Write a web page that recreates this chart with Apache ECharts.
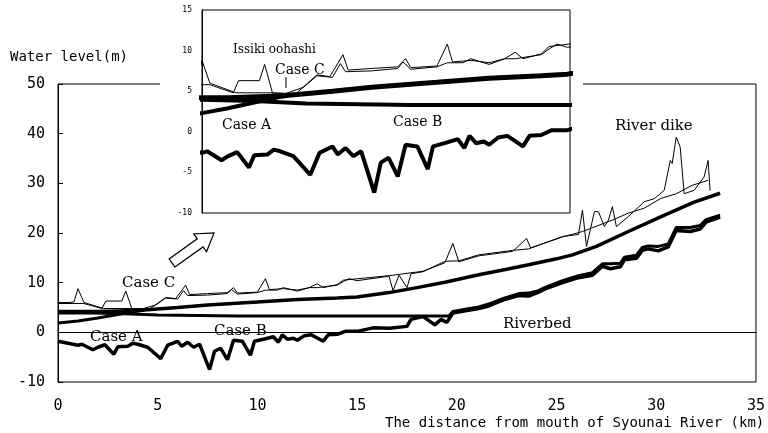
<!DOCTYPE html>
<html>
<head>
<meta charset="utf-8">
<script src="https://cdn.jsdelivr.net/npm/echarts@6/dist/echarts.min.js"></script>
<style>html,body{margin:0;padding:0;background:#fff}#c{width:768px;height:433px}</style>
</head>
<body>
<div id="c"></div>
<script>
// ---- data (km, water level m) ----
const xTicks = [0, 5, 10, 15, 20, 25, 30, 35];
const yTicks = [-10, 0, 10, 20, 30, 40, 50];
const insetYTicks = [-10, -5, 0, 5, 10, 15];

const dike1Km  = [0,0.5,0.8,1.0,1.3,2.3,3.0,3.6,4.6,5.4,5.9,6.4,6.6,7.5,8.5,8.8,9.0,10.0,10.4,10.6,11.3,12.0,12.6,13.0,13.3,14.0,14.3,15.3,16.6,18.3,19.4,19.8,20.1,21.1,22.8,23.5,23.7,25.3,26.3,27.8,28.6,29.4,30.2,31.0,31.8,32.6];
const dike1Lvl = [6.0,6.0,6.1,8.8,6.0,4.8,4.8,4.8,4.7,7.0,6.8,9.5,7.6,7.8,8.0,9.0,7.9,8.1,10.8,8.6,8.8,8.5,9.0,9.8,9.0,9.6,10.5,10.9,11.4,12.3,14.0,17.9,14.2,15.4,16.3,18.9,17.0,19.2,20.3,22.6,24.0,25.0,26.9,27.9,29.6,30.6];

const dike2Km  = [0,1.3,2.2,2.4,3.2,3.4,3.7,4.2,4.9,5.4,6.0,6.3,6.5,7.5,8.5,8.7,9.0,10.0,10.4,11.0,11.3,12.0,12.6,13.0,14.0,14.3,14.6,15.0,16.6,16.8,17.1,17.5,17.7,18.3,19.4,20.1,21.1,22.8,23.6,25.3,26.1,26.3,26.5,26.9,27.1,27.4,27.6,27.8,28.0,28.6,29.4,29.9,30.4,30.7,30.8,31.0,31.2,31.4,31.9,32.4,32.6,32.7];
const dike2Lvl = [5.8,5.8,4.8,6.3,6.3,8.3,4.8,4.7,5.5,6.9,6.7,8.4,7.4,7.5,7.8,8.6,7.7,8.0,8.5,8.5,9.0,8.3,9.0,9.0,9.5,10.2,10.8,10.4,11.3,8.4,11.5,9.0,11.8,12.2,14.3,14.4,15.6,16.5,16.8,19.3,19.7,24.6,17.3,24.3,24.3,21.3,22.6,25.3,21.3,23.3,26.3,26.9,28.6,34.6,34.0,39.3,37.3,27.9,28.6,31.3,34.6,28.5];

const caseAKm  = [0,1,2,3,4,4.3];
const caseALvl = [1.9,2.3,2.9,3.6,4.3,4.45];

const caseCKm  = [0,2,4,6,7.5,10,12,14,15,16.6,18,19.4,21.1,22.5,23.6,25,25.8,27,28.6,30.3,31.9,33.2];
const caseCLvl = [4.2,4.2,4.4,5.0,5.5,6.1,6.6,6.9,7.1,8.0,9.0,10.1,11.6,12.7,13.6,14.8,15.6,17.3,20.3,23.4,26.2,28.0];

const caseBKm  = [0,1,3,5,9,14,19.6,19.8,20.5,21.1,21.6,22.3,23.1,23.6,24.1,24.4,25.3,26.1,26.8,27.3,27.7,28.2,28.4,29.0,29.3,29.6,30.1,30.6,31.0,31.7,32.2,32.5,33.2];
const caseBLvl = [3.9,3.95,3.8,3.5,3.3,3.3,3.3,4.2,4.7,5.1,5.7,6.8,7.8,7.9,8.4,9.0,10.4,11.4,12.0,13.8,13.8,13.9,15.1,15.5,17.1,17.4,17.3,17.8,21.1,21.1,21.5,22.7,23.6];

const bedKm  = [0,0.5,1.0,1.2,1.75,2.0,2.35,2.8,3.0,3.5,3.75,4.0,4.5,5.15,5.5,6.0,6.2,6.5,6.8,7.1,7.6,7.85,8.15,8.5,8.8,9.25,9.65,9.85,10.3,10.8,11.05,11.25,11.5,11.8,12.0,12.35,12.7,13.3,13.55,14.0,14.4,15.0,15.8,16.6,17.5,17.7,18.3,18.9,19.2,19.5,19.8,20.5,21.1,21.6,22.3,23.1,23.6,24.1,24.4,25.3,26.1,26.8,27.3,27.7,28.2,28.4,29.0,29.3,29.6,30.1,30.6,31.0,31.7,32.2,32.5,33.2];
const bedLvl = [-1.8,-2.2,-2.6,-2.4,-3.5,-3.0,-2.5,-4.4,-2.9,-2.8,-2.2,-2.4,-3.0,-5.3,-2.6,-1.8,-2.8,-2.0,-3.0,-2.4,-7.5,-3.8,-3.2,-5.5,-1.6,-1.8,-4.6,-1.8,-1.4,-0.9,-2.0,-0.5,-1.4,-1.2,-1.6,-0.7,-0.5,-1.8,-0.5,-0.4,0.2,0.2,0.9,0.8,1.2,2.6,3.2,1.5,2.6,2.0,3.9,4.4,4.8,5.3,6.5,7.4,7.3,8.1,8.7,10.0,11.0,11.5,13.3,12.8,13.2,14.6,14.9,16.5,16.8,16.4,17.2,20.5,20.3,20.8,22.2,23.2];

const zip = (a, b) => a.map((v, i) => [v, b[i]]);

const mono = '"DejaVu Sans Mono", "Liberation Mono", monospace';
const serif = '"DejaVu Serif", serif';

function lineSeries(name, km, lvl, width, axis, z) {
  return {
    name, type: 'line', data: zip(km, lvl),
    xAxisIndex: axis, yAxisIndex: axis,
    showSymbol: false, symbol: 'none', smooth: false, clip: true,
    lineStyle: { color: '#000', width }, z: z,
    emphasis: { disabled: true }
  };
}

const chart = echarts.init(document.getElementById('c'), null, { renderer: 'canvas' });

function label(text, x, y, size, font) {
  return { type: 'text', x, y, z: 20,
    style: { text, fill: '#000', font: size + 'px ' + font, textAlign: 'left', textVerticalAlign: 'middle' } };
}

// hollow arrow
const T = [172, 263], tip = [214, 233];
const dx = tip[0]-T[0], dy = tip[1]-T[1], L = Math.hypot(dx, dy);
const u = [dx/L, dy/L], n = [-u[1], u[0]];
const B = [tip[0]-17*u[0], tip[1]-17*u[1]];
const P = (c, k) => [c[0]+k*n[0], c[1]+k*n[1]];
const arrowPts = [P(T,5), P(B,5), P(B,11), tip, P(B,-11), P(B,-5), P(T,-5)];

const option = {
  animation: false,
  backgroundColor: '#fff',
  grid: [
    { left: 58, top: 84, width: 702, height: 298, show: true, borderColor: '#000', borderWidth: 1, z: 0 },
    { left: 202, top: 10, width: 368, height: 203, show: true, borderColor: '#000', borderWidth: 1, backgroundColor: '#fff', z: 5 }
  ],
  xAxis: [
    { gridIndex: 0, type: 'value', min: xTicks[0], max: xTicks[xTicks.length-1], interval: 5,
      axisLine: { lineStyle: { color: '#000', width: 1 } }, axisTick: { show: false },
      splitLine: { show: false },
      axisLabel: { color: '#000', fontFamily: mono, fontSize: 15, margin: 17 } },
    { gridIndex: 1, type: 'value', min: 1, max: 15.1, show: false, splitLine: { show: false }, z: 5 }
  ],
  yAxis: [
    { gridIndex: 0, type: 'value', min: yTicks[0], max: yTicks[yTicks.length-1], interval: 10,
      axisLine: { show: true, lineStyle: { color: '#000', width: 1 } },
      axisTick: { show: true, inside: true, length: 5, lineStyle: { color: '#000' } },
      splitLine: { show: false },
      axisLabel: { color: '#000', fontFamily: mono, fontSize: 15, margin: 13 } },
    { gridIndex: 1, type: 'value', min: insetYTicks[0], max: insetYTicks[insetYTicks.length-1], interval: 5, z: 5,
      axisLine: { show: true, lineStyle: { color: '#000', width: 1 } },
      axisTick: { show: false }, splitLine: { show: false },
      axisLabel: { color: '#000', fontFamily: mono, fontSize: 8, margin: 10 } }
  ],
  series: [
    lineSeries('River dike L', dike1Km, dike1Lvl, 1, 0, 3),
    lineSeries('River dike R', dike2Km, dike2Lvl, 1, 0, 3),
    lineSeries('Case A', caseAKm, caseALvl, 3, 0, 3),
    lineSeries('Case C', caseCKm, caseCLvl, 3.5, 0, 3),
    lineSeries('Case B', caseBKm, caseBLvl, 3, 0, 3),
    lineSeries('Riverbed', bedKm, bedLvl, 3.5, 0, 3),
    lineSeries('River dike L (inset)', dike1Km, dike1Lvl, 1, 1, 8),
    lineSeries('River dike R (inset)', dike2Km, dike2Lvl, 1, 1, 8),
    lineSeries('Case A (inset)', caseAKm, caseALvl, 4, 1, 8),
    lineSeries('Case C (inset)', caseCKm, caseCLvl, 5, 1, 8),
    lineSeries('Case B (inset)', caseBKm, caseBLvl, 4, 1, 8),
    lineSeries('Riverbed (inset)', bedKm, bedLvl, 4, 1, 8)
  ],
  graphic: [
    { type: 'rect', z: 1, shape: { x: 160, y: 0, width: 423, height: 222 }, style: { fill: '#fff' }, silent: true },
    { type: 'polygon', z: 20, shape: { points: arrowPts }, style: { fill: '#fff', stroke: '#000', lineWidth: 1.2 } },
    { type: 'line', z: 20, shape: { x1: 286, y1: 77, x2: 286, y2: 88 }, style: { stroke: '#000', lineWidth: 1 } },
    label('Water level(m)', 10, 57, 14, mono),
    label('The distance from mouth of Syounai River (km)', 385, 423, 14, mono),
    label('Case C', 122, 283, 15, serif),
    label('Case A', 90, 337, 15, serif),
    label('Case B', 214, 331, 15, serif),
    label('River dike', 615, 126, 15, serif),
    label('Riverbed', 503, 324, 15, serif),
    label('Issiki oohashi', 233, 50, 12, serif),
    label('Case C', 275, 70, 14, serif),
    label('Case A', 222, 125, 14, serif),
    label('Case B', 393, 122, 14, serif)
  ]
};
chart.setOption(option);
</script>
</body>
</html>
